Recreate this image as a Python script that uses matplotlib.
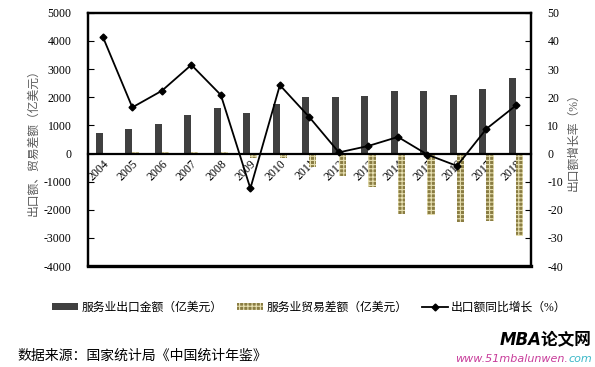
import matplotlib
matplotlib.use("Agg")
import matplotlib.pyplot as plt
import numpy as np
from matplotlib.patches import Patch
from matplotlib.lines import Line2D

plt.rcParams['font.family'] = ['Liberation Serif', 'Noto Sans CJK SC', 'DejaVu Sans']
plt.rcParams['hatch.linewidth'] = 0.8
plt.rcParams['axes.unicode_minus'] = False

years = ['2004', '2005', '2006', '2007', '2008', '2009', '2010', '2011',
         '2012', '2013', '2014', '2015', '2016', '2017', '2018']
exports = [725, 880, 1057, 1376, 1626, 1448, 1768, 2017,
           2016, 2053, 2230, 2219, 2088, 2281, 2668]
balance = [30, 40, 40, 40, 40, -150, -150, -468,
           -797, -1185, -2137, -2183, -2426, -2395, -2922]
growth = [41.5, 16.4, 22.3, 31.5, 20.8, -12.4, 24.3, 12.9,
          0.4, 2.7, 5.9, -0.4, -4.4, 8.8, 17.1]

lbl_export = '服务业出口金额（亿美元）'
lbl_balance = '服务业贸易差额（亿美元）'
lbl_growth = '出口额同比增长（%）'

fig = plt.figure(figsize=(5.95, 3.67), dpi=100)
ax = fig.add_axes([0.148, 0.275, 0.744, 0.690])
ax2 = ax.twinx()

x = np.arange(len(years))
w = 0.24
bar_color = '#404040'
hatch_face = '#8a7d43'
hatch_col = '#e6dfb0'

ax.bar(x - w / 2, exports, width=w, color=bar_color, zorder=2)
ax.bar(x + w / 2, balance, width=w, facecolor=hatch_face, edgecolor=hatch_col,
       hatch='++++', linewidth=0, zorder=2)

ax.set_xlim(-0.5, len(years) - 0.5)
ax.set_ylim(-4000, 5000)
ax.set_yticks(np.arange(-4000, 5001, 1000))
ax2.set_ylim(-40, 50)
ax2.set_yticks(np.arange(-40, 51, 10))

ax2.plot(x, growth, color='black', lw=1.3, marker='D', markersize=3.5, zorder=5)

for a in (ax, ax2):
    for s in a.spines.values():
        s.set_linewidth(1.6)
        s.set_color('black')
ax.spines['bottom'].set_position(('data', 0))
ax2.spines['bottom'].set_visible(False)
ax.axhline(-4000, color='black', lw=2.4, clip_on=False, zorder=1)

ax.set_xticks(x)
ax.set_xticklabels(years, rotation=45, ha='right', va='top', rotation_mode='anchor',
                   fontsize=8.5)
ax.tick_params(axis='x', length=0, pad=3)
ax.tick_params(axis='y', direction='in', length=4, labelsize=8.5, pad=12)
ax2.tick_params(axis='y', direction='in', length=4, labelsize=8.5, pad=12)

ax.set_ylabel('出口额、贸易差额（亿美元）', fontsize=8.5, color='#595959', labelpad=3)
ax2.set_ylabel('出口额增长率（%）', fontsize=8.5, color='#595959', labelpad=3)

handles = [Patch(facecolor=bar_color, edgecolor='none'),
           Patch(facecolor=hatch_face, edgecolor=hatch_col, hatch='++++', linewidth=0),
           Line2D([0], [0], color='black', lw=1.3, marker='D', markersize=3.5)]
fig.legend(handles, [lbl_export, lbl_balance, lbl_growth], loc='center',
           bbox_to_anchor=(0.52, 0.161), ncol=3, frameon=False, fontsize=8.5,
           handlelength=2.2, handleheight=0.6, handletextpad=0.3, columnspacing=1.2)

fig.text(0.03, 0.03, '数据来源：国家统计局《中国统计年鉴》', fontsize=10, va='center', ha='left')
fig.text(0.995, 0.074, 'MBA论文网', fontsize=12, fontweight='bold', style='italic',
         ha='right', va='center', family=['DejaVu Sans', 'Noto Sans CJK SC'])

# watermark url in two colours
fig.canvas.draw()
r = fig.canvas.get_renderer()
t_com = fig.text(0.995, 0.022, 'com', fontsize=8, style='italic', color='#3bb8c8',
                 ha='right', va='center', family=['DejaVu Sans'])
bb = t_com.get_window_extent(renderer=r)
x0 = fig.transFigure.inverted().transform((bb.x0, bb.y0))[0]
fig.text(x0, 0.022, 'www.51mbalunwen.', fontsize=8, style='italic', color='#c83c9a',
         ha='right', va='center', family=['DejaVu Sans'])

fig.savefig('out.png', dpi=100)
